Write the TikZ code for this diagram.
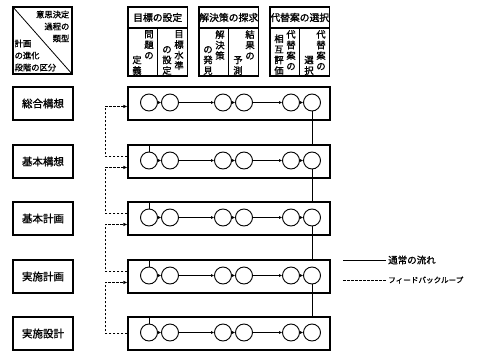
\documentclass[tikz,border=0pt]{standalone}
\usepackage{fontspec}
\newfontfamily\jp{Noto Sans CJK JP}
\newfontfamily\jpb[FakeBold=1.2]{Noto Sans CJK JP}
\usetikzlibrary{arrows.meta,positioning,calc}
\tikzset{
  stagebox/.style={draw,line width=1.1pt,minimum width=60pt,minimum height=33pt,inner sep=0pt,
    font=\jpb\fontsize{10.5}{12}\selectfont},
  procbox/.style={draw,line width=1.1pt,minimum width=202pt,minimum height=33pt,inner sep=0pt},
  stepcircle/.style={draw,circle,line width=0.9pt,minimum size=17pt,inner sep=0pt},
  cornerbox/.style={draw,line width=1.1pt,minimum width=59pt,minimum height=67pt,inner sep=0pt},
  cornertext/.style={inner sep=0pt,font=\jpb\fontsize{8.3}{12}\selectfont},
  titlebox/.style={draw,line width=1.1pt,minimum width=59.5pt,minimum height=21pt,inner sep=0pt,
    font=\jpb\fontsize{9.8}{11}\selectfont},
  subbox/.style={draw,line width=1.1pt,minimum width=29.75pt,minimum height=48pt,inner sep=0pt},
  tatecol/.style={inner sep=0pt,align=center,font=\jpb\fontsize{9.3}{10.6}\selectfont},
  flowline/.style={line width=0.9pt},
  flowarrow/.style={line width=0.9pt,-{Latex[length=3pt,width=3pt]}},
  feedback/.style={line width=1pt,dash pattern=on 2.5pt off 1.5pt},
  feedarrow/.style={feedback,-{Latex[length=4pt,width=3.5pt]}},
  legendtext/.style={anchor=west,inner sep=2pt,font=\jpb\fontsize{9.5}{10}\selectfont}
}
\begin{document}
\begin{tikzpicture}[x=1pt,y=-1pt]
  \useasboundingbox (0,0) rectangle (479,351);
  % corner box
  \node[cornerbox] (corner) at (42.5,40.5) {};
  \draw[line width=0.8pt] (corner.north west) -- (corner.south east);
  \node[cornertext,anchor=north east,align=right] (ctype) at ([xshift=-3pt,yshift=-4pt]corner.north east) {意思決定\\過程の\\類型};
  \node[cornertext,anchor=south west,align=left] (cstage) at ([xshift=2pt,yshift=3pt]corner.south west) {計画\\の進化\\段階の区分};
  % header
  \node[titlebox] (h1) at (157.75,17.5) {目標の設定};
  \node[titlebox] (h2) at (228.75,17.5) {解決策の探求};
  \node[titlebox] (h3) at (299.75,17.5) {代替案の選択};
  \node[subbox] (u1) at (142.9,52) {};
  \node[subbox] (u2) at (172.6,52) {};
  \node[subbox] (u3) at (213.9,52) {};
  \node[subbox] (u4) at (243.6,52) {};
  \node[subbox] (u5) at (284.9,52) {};
  \node[subbox] (u6) at (314.6,52) {};
  \node[tatecol,anchor=north] (u1r) at (149,30) {問\\題\\の};
  \node[tatecol,anchor=south] (u1l) at (137,75) {定\\義};
  \node[tatecol,anchor=north] (u2r) at (179,30) {目\\標\\水\\準};
  \node[tatecol,anchor=south] (u2l) at (167,75) {の\\設\\定};
  \node[tatecol,anchor=north] (u3r) at (220,30) {解\\決\\策};
  \node[tatecol,anchor=south] (u3l) at (208,75) {の\\発\\見};
  \node[tatecol,anchor=north] (u4r) at (250,30) {結\\果\\の};
  \node[tatecol,anchor=south] (u4l) at (238,75) {予\\測};
  \node[tatecol,anchor=north] (u5r) at (291,30) {代\\替\\案\\の};
  \node[tatecol,anchor=south] (u5l) at (279,75) {相\\互\\評\\価};
  \node[tatecol,anchor=north] (u6r) at (321,30) {代\\替\\案\\の};
  \node[tatecol,anchor=south] (u6l) at (309,75) {選\\択};
  % stages and process rows
  \foreach \r/\yc/\lab in {1/103.5/総合構想,2/161.5/基本構想,3/218.5/基本計画,4/276.5/実施計画,5/333.5/実施設計}{
    \node[stagebox] (s\r) at (43,\yc) {\lab};
    \node[procbox] (p\r) at (229,\yc) {};
    \foreach \i/\xc in {1/149,2/170,3/223,4/244,5/291,6/312}
      \node[stepcircle] (c\r-\i) at (\xc,\yc-1) {};
    \draw[flowarrow] (c\r-1) -- (c\r-2);
    \draw[flowarrow] (c\r-2) -- (c\r-3);
    \draw[flowarrow] (c\r-3) -- (c\r-4);
    \draw[flowarrow] (c\r-4) -- (c\r-5);
    \draw[flowarrow] (c\r-5) -- (c\r-6);
  }
  \foreach \r/\n in {1/2,2/3,3/4,4/5}{
    \draw[flowline] (c\r-6) -- (c\r-6 |- p\n.north);
    \draw[flowline] (c\n-1 |- p\n.north) -- (c\n-1);
  }
  % feedback loops
  \foreach \r/\n/\d/\u in {1/2/20pt/12pt,2/3/23pt/12pt,3/4/23pt/12pt,4/5/23pt/17pt}
    \draw[feedarrow] ([yshift=-\u]p\n.north west) -- ++(-22,0) |- ([yshift=-\d]p\r.north west);
  % legend
  \node[legendtext] (lgsolid) at (386,260) {通常の流れ};
  \node[legendtext,font=\jpb\fontsize{7.6}{9}\selectfont] (lgdash) at (386,280) {フィードバックループ};
  \coordinate (lsa) at (343,260);
  \coordinate (lda) at (343,280);
  \draw[flowline] (lsa) -- (lgsolid);
  \draw[feedback] (lda) -- (lgdash);
\end{tikzpicture}
\end{document}
